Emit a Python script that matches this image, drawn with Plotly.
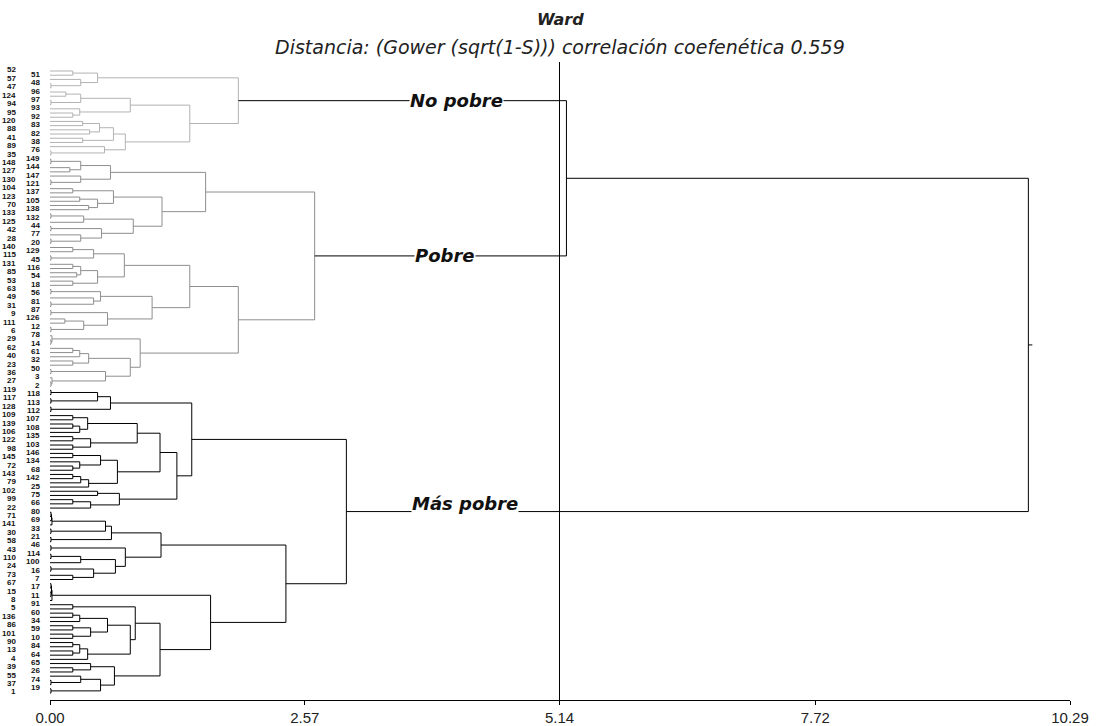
import plotly.graph_objects as go

# ---------------- data ----------------
leaf_order = [52, 51, 57, 48, 47, 96, 124, 97, 94, 93, 95, 92, 120, 83, 88, 82, 41, 38, 89, 76, 35,
              149, 148, 144, 127, 147, 130, 121, 104, 137, 123, 105, 70, 138, 133, 132, 125, 44, 42,
              77, 28, 20, 140, 129, 115, 45, 131, 116, 85, 54, 53, 18, 63, 56, 49, 81, 31, 87, 9,
              126, 111, 12, 6, 78, 29, 14, 62, 61, 40, 32, 23, 50, 36, 3, 27, 2,
              119, 118, 117, 113, 128, 112, 109, 107, 139, 108, 106, 135, 122, 103, 98, 146, 145,
              134, 72, 68, 143, 142, 79, 25, 102, 75, 99, 66, 22, 80, 71, 69, 141, 33, 30, 21, 58,
              46, 43, 114, 110, 100, 24, 16, 73, 7, 67, 17, 15, 11, 8, 91, 5, 60, 136, 34, 86, 59,
              101, 10, 90, 84, 13, 64, 4, 65, 39, 26, 55, 74, 37, 19, 1]

cluster_names = ["No pobre", "Pobre", "Más pobre"]
cluster_sizes = [21, 55, 73]

# merges: (leaf in first cluster, leaf in second cluster, distance)
merges_no_pobre = [
    (52, 51, 0.23), (48, 47, 0.01), (57, 48, 0.31), (52, 57, 0.48),
    (96, 124, 0.16), (97, 94, 0.01), (96, 97, 0.31), (95, 92, 0.23), (93, 95, 0.30),
    (96, 93, 0.81), (120, 83, 0.33), (88, 82, 0.40), (120, 88, 0.50), (41, 38, 0.33),
    (120, 41, 0.64), (76, 35, 0.01), (89, 76, 0.55), (120, 89, 0.76), (96, 120, 1.41),
    (52, 96, 1.90),
]
merges_pobre = [
    (149, 148, 0.01), (144, 127, 0.20), (149, 144, 0.31), (130, 121, 0.01), (147, 130, 0.31),
    (149, 147, 0.61), (104, 137, 0.23), (123, 105, 0.30), (70, 138, 0.39), (123, 70, 0.48),
    (104, 123, 0.64), (133, 132, 0.01), (133, 125, 0.34), (44, 42, 0.01), (28, 20, 0.01),
    (77, 28, 0.31), (44, 77, 0.52), (133, 44, 0.84), (104, 133, 1.13), (149, 104, 1.57),
    (140, 129, 0.23), (115, 45, 0.01), (140, 115, 0.44), (131, 116, 0.23), (85, 54, 0.27),
    (131, 85, 0.31), (53, 18, 0.23), (131, 53, 0.48), (140, 131, 0.75), (63, 56, 0.01),
    (81, 31, 0.01), (49, 81, 0.44), (63, 49, 0.51), (87, 9, 0.01), (126, 111, 0.15),
    (12, 6, 0.01), (126, 12, 0.34), (87, 126, 0.58), (63, 87, 1.03), (140, 63, 1.41),
    (29, 14, 0.01), (78, 29, 0.02), (62, 61, 0.23), (62, 40, 0.30), (32, 23, 0.23),
    (62, 32, 0.39), (50, 36, 0.01), (27, 2, 0.01), (3, 27, 0.02), (50, 3, 0.56),
    (62, 50, 0.81), (78, 62, 0.91), (140, 78, 1.90), (149, 140, 2.67),
]
merges_mas_pobre = [
    (119, 118, 0.01), (117, 113, 0.01), (119, 117, 0.48), (128, 112, 0.01), (119, 128, 0.61),
    (109, 107, 0.23), (139, 108, 0.23), (139, 106, 0.30), (109, 139, 0.38), (135, 122, 0.23),
    (103, 98, 0.23), (135, 103, 0.41), (109, 135, 0.88), (146, 145, 0.23), (72, 68, 0.23),
    (134, 72, 0.30), (146, 134, 0.51), (143, 142, 0.23), (143, 79, 0.31), (143, 25, 0.39),
    (146, 143, 0.68), (109, 146, 1.11), (102, 75, 0.48), (99, 66, 0.23), (99, 22, 0.41),
    (102, 99, 0.70), (109, 102, 1.28), (119, 109, 1.43),
    (80, 71, 0.01), (80, 69, 0.015), (80, 141, 0.02), (33, 30, 0.01), (21, 58, 0.01),
    (80, 33, 0.56), (80, 21, 0.62), (46, 43, 0.01), (114, 110, 0.01), (114, 100, 0.31),
    (24, 16, 0.01), (73, 7, 0.23), (24, 73, 0.44), (114, 24, 0.66), (46, 114, 0.76),
    (80, 46, 1.12), (67, 17, 0.01), (15, 11, 0.01), (67, 15, 0.015), (67, 8, 0.02),
    (91, 5, 0.23), (60, 136, 0.23), (60, 34, 0.30), (86, 59, 0.23), (101, 10, 0.23),
    (86, 101, 0.41), (60, 86, 0.58), (90, 84, 0.23), (13, 64, 0.23), (90, 13, 0.30),
    (90, 4, 0.38), (60, 90, 0.81), (91, 60, 0.86), (39, 26, 0.23), (65, 39, 0.41),
    (74, 37, 0.01), (55, 74, 0.31), (19, 1, 0.01), (55, 19, 0.51), (65, 55, 0.65),
    (91, 65, 1.11), (67, 91, 1.62), (80, 67, 2.38), (119, 80, 2.99),
]
merges_top = [(52, 149, 5.21), (52, 119, 9.87)]

axis_ticks = [0.00, 2.57, 5.14, 7.72, 10.29]
cut_value = 5.14
title_text = "Ward"
subtitle_text = "Distancia: (Gower (sqrt(1-S))) correlación coefenética 0.559"

# ---------------- build dendrogram geometry ----------------
pos = {lab: i for i, lab in enumerate(leaf_order)}
group_of = {}
start = 0
for gi, size in enumerate(cluster_sizes):
    for lab in leaf_order[start:start + size]:
        group_of[lab] = gi
    start += size

node_of = {lab: lab for lab in leaf_order}
nodes = {lab: {"y": float(pos[lab]), "h": 0.0, "members": [lab]} for lab in leaf_order}
segs = {g: ([], []) for g in range(4)}
cluster_root = {}
last = None
all_merges = merges_no_pobre + merges_pobre + merges_mas_pobre + merges_top
for k, (a, b, h) in enumerate(all_merges):
    na = nodes[node_of[a]]
    nb = nodes[node_of[b]]
    members = na["members"] + nb["members"]
    groups = {group_of[m] for m in members}
    g = next(iter(groups)) if len(groups) == 1 else 3
    xs, ys = segs[g]
    xs += [na["h"], h, h, nb["h"], None]
    ys += [na["y"], na["y"], nb["y"], nb["y"], None]
    nid = ("n", k)
    nodes[nid] = {"y": (na["y"] + nb["y"]) / 2.0, "h": h, "members": members}
    for m in members:
        node_of[m] = nid
    if g < 3 and len(members) == cluster_sizes[g]:
        cluster_root[g] = nodes[nid]
    last = nodes[nid]

# root stub
segs[3][0].extend([last["h"], last["h"] + 0.04, None])
segs[3][1].extend([last["y"], last["y"], None])

colors = {0: "#b2b2b2", 1: "#8e8e8e", 2: "#000000", 3: "#000000"}

fig = go.Figure()
for g in range(4):
    xs, ys = segs[g]
    fig.add_trace(go.Scatter(x=xs, y=ys, mode="lines",
                             line=dict(color=colors[g], width=1),
                             hoverinfo="skip", showlegend=False))

# cut line
fig.add_shape(type="line", xref="x", yref="paper", x0=cut_value, x1=cut_value,
              y0=0, y1=1, line=dict(color="#000000", width=1))

annotations = []
# leaf labels (two staggered columns)
for i, lab in enumerate(leaf_order):
    annotations.append(dict(x=0, y=i, xref="x", yref="y", text=f"<b>{lab}</b>",
                            showarrow=False, xanchor="right", yanchor="middle",
                            xshift=-33 if i % 2 == 0 else -9, yshift=1, borderpad=0,
                            font=dict(family="Arial, 'Liberation Sans', sans-serif",
                                      size=8, color="#111111")))

# cluster labels on branches
label_x = [4.10, 3.98, 4.19]
label_shift = [0, 0, 8]
for g, name in enumerate(cluster_names):
    r = cluster_root[g]
    annotations.append(dict(x=label_x[g], y=r["y"], xref="x", yref="y",
                            text=f"<b><i>{name}</i></b>", showarrow=False,
                            xanchor="center", yanchor="middle", yshift=label_shift[g],
                            bgcolor="#ffffff", borderpad=0,
                            font=dict(family="'DejaVu Sans', Arial, sans-serif",
                                      size=18, color="#111111")))

annotations.append(dict(x=0.5, y=1.066, xref="paper", yref="paper",
                        text=f"<b><i>{title_text}</i></b>", showarrow=False,
                        xanchor="center", yanchor="middle",
                        font=dict(family="'DejaVu Sans', Arial, sans-serif",
                                  size=16, color="#222222")))
annotations.append(dict(x=0.5, y=1.0235, xref="paper", yref="paper",
                        text=f"<i>{subtitle_text}</i>", showarrow=False,
                        xanchor="center", yanchor="middle",
                        font=dict(family="'DejaVu Sans', Arial, sans-serif",
                                  size=19, color="#222222")))

fig.update_layout(
    width=1097, height=726,
    margin=dict(l=50, r=27, t=62, b=26),
    paper_bgcolor="#ffffff", plot_bgcolor="#ffffff",
    annotations=annotations,
    xaxis=dict(range=[0, 10.29], tickvals=axis_ticks,
               ticktext=[f"{v:.2f}" for v in axis_ticks], automargin=False,
               showgrid=False, zeroline=False, showline=True, linecolor="#000000",
               linewidth=1, ticks="outside", ticklen=4, tickcolor="#000000",
               tickfont=dict(family="Arial, 'Liberation Sans', sans-serif",
                             size=15, color="#222222")),
    yaxis=dict(range=[149.67, -2.14], visible=False, showgrid=False, zeroline=False,
               automargin=False),
)

fig.write_html("out.html", config={"displayModeBar": False},
               post_script="document.body.style.margin='0';")
